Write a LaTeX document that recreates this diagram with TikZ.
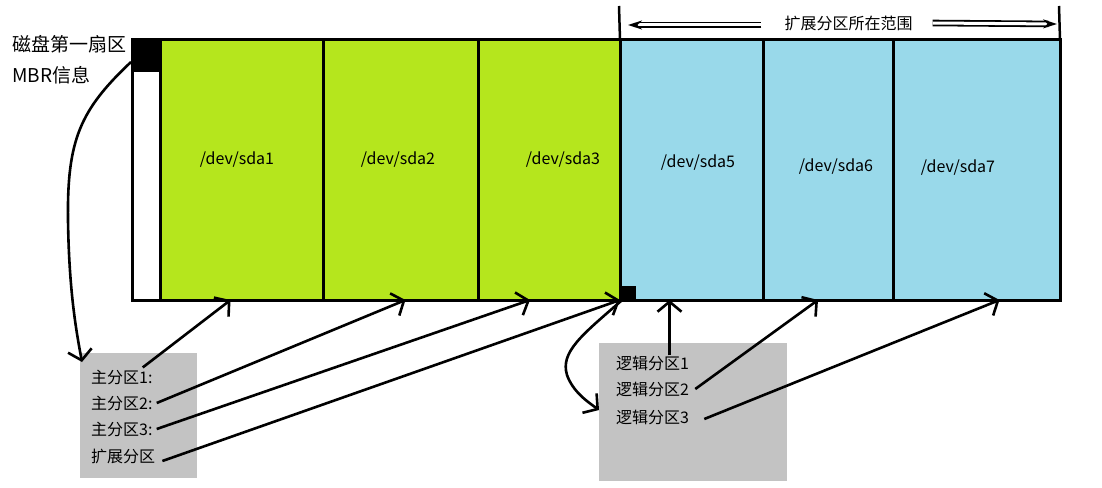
\documentclass[tikz,border=0pt]{standalone}
\usepackage{fontspec}
\setmainfont{Noto Sans CJK SC}
\usetikzlibrary{arrows.meta}
\definecolor{primgreen}{RGB}{181,230,29}
\definecolor{logblue}{RGB}{153,217,234}
\definecolor{notegray}{RGB}{195,195,195}
\tikzset{
  part/.style={draw=black, line width=3pt, minimum height=260pt, inner sep=0pt, outer sep=0pt},
  hand/.style={line width=2.6pt, -{Straight Barb[length=10pt,width=24pt,line width=2.6pt]}},
  rangearr/.style={draw=black, double=white, double distance=3pt, line width=1.8pt, -{Stealth[length=14pt,width=9pt]}},
  lbl/.style={font=\fontsize{16}{19}\selectfont, inner sep=0pt},
  note/.style={fill=notegray, inner sep=0pt, outer sep=0pt, anchor=north west}
}
\begin{document}
\begin{tikzpicture}[x=1pt, y=-1pt]
    \useasboundingbox (0,0) rectangle (1102,487);

    % disk partitions
    \node[part, fill=white, minimum width=28pt] (mbr) at (146,170) {};
    \node[part, fill=primgreen, minimum width=163pt] (sda1) at (241.5,170) {};
    \node[part, fill=primgreen, minimum width=155pt] (sda2) at (400.5,170) {};
    \node[part, fill=primgreen, minimum width=142pt] (sda3) at (549,170) {};
    \node[part, fill=logblue, minimum width=143pt] (sda5) at (691.5,170) {};
    \node[part, fill=logblue, minimum width=130pt] (sda6) at (828,170) {};
    \node[part, fill=logblue, minimum width=167pt] (sda7) at (976.5,170) {};

    \node[fill=black, minimum width=29pt, minimum height=33pt, inner sep=0pt, outer sep=0pt, anchor=north west] (mbrblk) at (131,39) {};
    \node[fill=black, minimum size=15pt, inner sep=0pt, outer sep=0pt, anchor=south west] (ebr) at (621,301) {};

    \node[lbl] (lsda1) at (237,160) {/dev/sda1};
    \node[lbl] (lsda2) at (398,160) {/dev/sda2};
    \node[lbl] (lsda3) at (563,160) {/dev/sda3};
    \node[lbl] (lsda5) at (698,163) {/dev/sda5};
    \node[lbl] (lsda6) at (836,167) {/dev/sda6};
    \node[lbl] (lsda7) at (958,168) {/dev/sda7};

    \node[lbl, font=\fontsize{19}{22}\selectfont, anchor=west] (sec1) at (12,44) {磁盘第一扇区};
    \node[lbl, font=\fontsize{19}{22}\selectfont, anchor=west] (mbrinfo) at (12,75) {MBR信息};

    % range of the extended partition
    \coordinate (rangetopL) at (619,6);
    \coordinate (rangetopR) at (1059,6);
    \draw[line width=2.5pt] (rangetopL) -- (sda5.north west);
    \draw[line width=2.5pt] (rangetopR) -- (sda7.north east);
    \node[lbl] (range) at (848.5,23) {扩展分区所在范围};
    \coordinate (rangeL) at (628,25);
    \coordinate (rangeR) at (1057,24);
    \draw[rangearr] ([xshift=-23pt,yshift=-2pt]range.west) -- (rangeL);
    \draw[rangearr] ([xshift=20pt]range.east) -- (rangeR);

    % notes
    \node[note, minimum width=117pt, minimum height=125pt] (pribox) at (80,353) {};
    \node[lbl, anchor=west] (p1) at (91,377) {主分区1:};
    \node[lbl, anchor=west] (p2) at (91,403) {主分区2:};
    \node[lbl, anchor=west] (p3) at (91,429) {主分区3:};
    \node[lbl, anchor=west] (pext) at (91,456) {扩展分区};

    \node[note, minimum width=188pt, minimum height=138pt] (logbox) at (599,343) {};
    \node[lbl, anchor=west] (l1) at (616,363) {逻辑分区1};
    \node[lbl, anchor=west] (l2) at (616,389) {逻辑分区2};
    \node[lbl, anchor=west] (l3) at (616,417) {逻辑分区3};

    % connectors
    \coordinate (mbrend) at ([xshift=2pt,yshift=-9pt]pribox.north west);
    \draw[hand] ([yshift=-23pt]mbrblk.north west) .. controls (80,110) and (67,140) .. (68,220)
        .. controls (69,290) and (76,330) .. (mbrend);
    \draw[hand] ([xshift=-10pt,yshift=2pt]p1.north east) -- ([xshift=-11pt]sda1.south);
    \draw[hand] ([xshift=4pt]p2.east) -- ([xshift=5pt]sda2.south);
    \draw[hand] ([xshift=4pt]p3.east) -- ([xshift=-19pt]sda3.south);
    \draw[hand] ([xshift=7pt,yshift=-5pt]pext.east) -- (sda3.south east);

    \coordinate (ebrend) at ([yshift=-67pt]logbox.north west);
    \draw[hand] (ebr.south west) .. controls (582,335) and (560,352) .. (567,375)
        .. controls (573,392) and (588,402) .. (ebrend);
    \coordinate (l1tip) at ([xshift=-22pt]sda5.south);
    \draw[hand] (l1.north -| l1tip) -- (l1tip);
    \draw[hand] ([xshift=6pt]l2.east) -- ([xshift=-10pt]sda6.south);
    \draw[hand] ([xshift=15pt,yshift=-2pt]l3.east) -- ([xshift=23pt]sda7.south);
\end{tikzpicture}
\end{document}
